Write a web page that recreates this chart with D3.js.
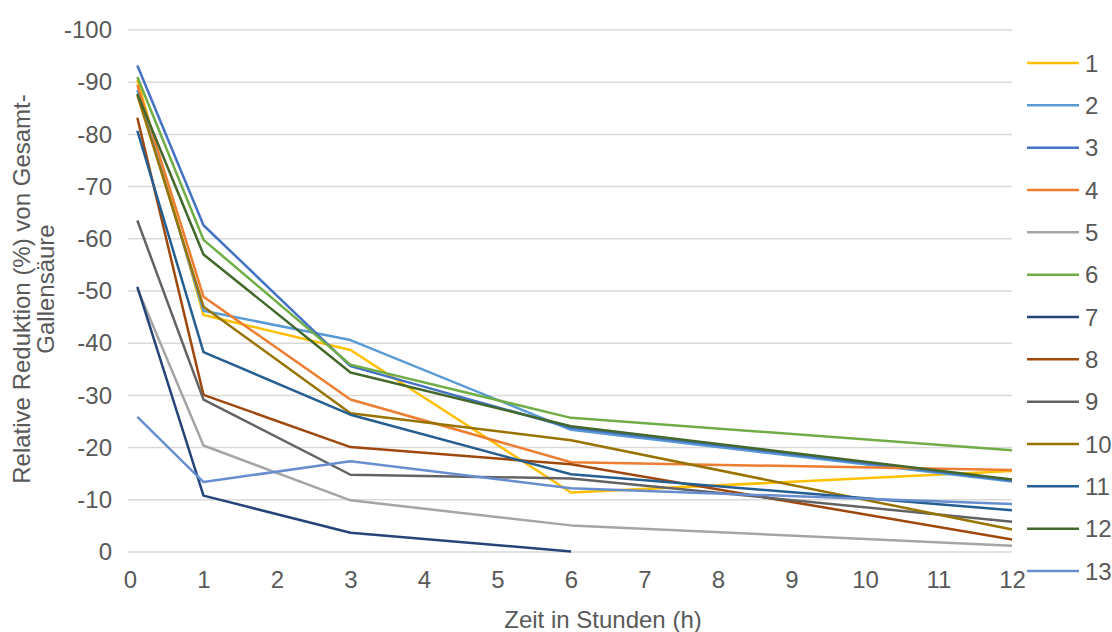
<!DOCTYPE html>
<html>
<head>
<meta charset="utf-8">
<script src="https://cdn.jsdelivr.net/npm/d3@7"></script>
<style>
  html, body { margin: 0; padding: 0; background: #fff; }
  svg { display: block; font-family: "Liberation Sans", Arial, sans-serif; }
</style>
</head>
<body>
<svg id="chart" width="1112" height="632"></svg>
<script>
// Sampling times in hours
const hours = [0.1, 1, 3, 6, 12];

// Relative reduction (%) of total bile acid per subject
const s1  = [-90.5, -45.4, -38.7, -11.4, -15.5];
const s2  = [-88.5, -46.2, -40.6, -23.4, -13.5];
const s3  = [-93.2, -62.6, -35.6, -23.8, -13.7];
const s4  = [-89.5, -48.9, -29.2, -17.2, -15.7];
const s5  = [-50.5, -20.4, -9.9, -5.1, -1.2];
const s6  = [-91.0, -59.8, -35.9, -25.7, -19.5];
const s7  = [-50.8, -10.8, -3.7, -0.1];
const s8  = [-83.2, -30.1, -20.1, -16.8, -2.4];
const s9  = [-63.5, -29.2, -14.8, -14.1, -5.8];
const s10 = [-87.5, -47.0, -26.6, -21.4, -4.3];
const s11 = [-80.7, -38.3, -26.3, -14.9, -8.0];
const s12 = [-87.8, -57.0, -34.4, -24.1, -13.9];
const s13 = [-25.9, -13.4, -17.4, -12.2, -9.2];

const seriesNames = ["1","2","3","4","5","6","7","8","9","10","11","12","13"];
const seriesValues = [s1, s2, s3, s4, s5, s6, s7, s8, s9, s10, s11, s12, s13];
const seriesColors = ["#FFC000","#5B9BD5","#4472C4","#ED7D31","#A5A5A5","#70AD47",
                      "#264478","#9E480E","#636363","#997300","#255E91","#43682B","#698ED0"];

const xTicks = [0,1,2,3,4,5,6,7,8,9,10,11,12];
const yTicks = [0,-10,-20,-30,-40,-50,-60,-70,-80,-90,-100];

const svg = d3.select("#chart");
const plotLeft = 130, plotRight = 1012, plotTop = 30, plotBottom = 552;

const x = d3.scaleLinear().domain([0, 12]).range([plotLeft, plotRight]);
const y = d3.scaleLinear().domain([0, -100]).range([plotBottom, plotTop]);

const textColor = "#595959";
const fontSize = "24px";
const plainNumber = d => String(d);   // keeps the ASCII hyphen for negatives

// Horizontal gridlines
svg.append("g")
  .selectAll("line")
  .data(yTicks)
  .join("line")
  .attr("x1", plotLeft - 2).attr("x2", plotRight)
  .attr("y1", d => y(d)).attr("y2", d => y(d))
  .attr("stroke", "#d9d9d9").attr("stroke-width", 1.5);

// Y axis labels
const yAxis = svg.append("g")
  .attr("transform", `translate(${plotLeft - 18},0)`)
  .call(d3.axisLeft(y).tickValues(yTicks).tickSize(0).tickPadding(0).tickFormat(plainNumber));
yAxis.select(".domain").remove();
yAxis.selectAll("text").attr("fill", textColor).style("font-size", fontSize)
  .style("font-family", "'Liberation Sans', Arial, sans-serif");

// X axis labels
const xAxis = svg.append("g")
  .attr("transform", `translate(0,${plotBottom + 19})`)
  .call(d3.axisBottom(x).tickValues(xTicks).tickSize(0).tickPadding(0).tickFormat(plainNumber));
xAxis.select(".domain").remove();
xAxis.selectAll("text").attr("fill", textColor).style("font-size", fontSize)
  .style("font-family", "'Liberation Sans', Arial, sans-serif");

// Series lines
const line = d3.line()
  .x((d, i) => x(hours[i]))
  .y(d => y(d));

svg.append("g")
  .selectAll("path")
  .data(seriesValues)
  .join("path")
  .attr("d", d => line(d))
  .attr("fill", "none")
  .attr("stroke", (d, i) => seriesColors[i])
  .attr("stroke-width", 2.5)
  .attr("stroke-linejoin", "round");

// Axis titles
svg.append("text")
  .attr("x", (plotLeft + plotRight) / 2 + 32).attr("y", 628)
  .attr("text-anchor", "middle")
  .attr("fill", textColor).style("font-size", fontSize)
  .text("Zeit in Stunden (h)");

const yTitle = svg.append("text")
  .attr("transform", `translate(0,289) rotate(-90)`)
  .attr("text-anchor", "middle")
  .attr("fill", textColor).style("font-size", fontSize);
yTitle.append("tspan").attr("x", 0).attr("y", 30).text("Relative Reduktion (%) von Gesamt-");
yTitle.append("tspan").attr("x", 0).attr("y", 54).text("Gallensäure");

// Legend
const legendY = d3.scaleLinear().domain([0, 12]).range([63, 571]);
const legend = svg.append("g")
  .selectAll("g")
  .data(seriesNames)
  .join("g")
  .attr("transform", (d, i) => `translate(1027,${legendY(i)})`);
legend.append("line")
  .attr("x1", 0).attr("x2", 52)
  .attr("stroke", (d, i) => seriesColors[i]).attr("stroke-width", 2.5);
legend.append("text")
  .attr("x", 58).attr("y", 8.5)
  .attr("fill", textColor).style("font-size", fontSize)
  .text(d => d);
</script>
</body>
</html>
